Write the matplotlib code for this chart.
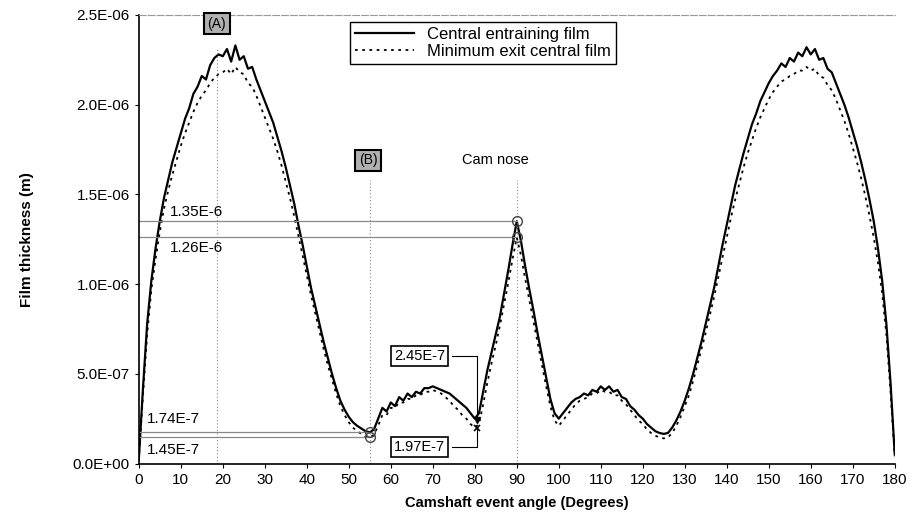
import matplotlib
matplotlib.use("Agg")
import matplotlib.pyplot as plt
from matplotlib.ticker import FuncFormatter, MultipleLocator

plt.rcParams['font.family'] = ['Liberation Sans', 'DejaVu Sans']

# camshaft angle (degrees) and film thickness (micrometres, scaled to m below)
angle = list(range(0, 181))
central_film = [
    0.02, 0.42, 0.78, 1.02, 1.20, 1.35, 1.48, 1.58, 1.68, 1.76,
    1.84, 1.92, 1.98, 2.06, 2.10, 2.16, 2.14, 2.22, 2.26, 2.28,
    2.27, 2.31, 2.24, 2.33, 2.25, 2.27, 2.20, 2.21, 2.14, 2.08,
    2.02, 1.96, 1.90, 1.82, 1.74, 1.65, 1.55, 1.45, 1.33, 1.22,
    1.10, 0.98, 0.88, 0.78, 0.68, 0.59, 0.50, 0.42, 0.35, 0.30,
    0.26, 0.23, 0.21, 0.195, 0.18, 0.174, 0.19, 0.25, 0.31, 0.29,
    0.34, 0.32, 0.37, 0.35, 0.39, 0.37, 0.40, 0.39, 0.42, 0.42,
    0.43, 0.42, 0.41, 0.40, 0.39, 0.37, 0.35, 0.33, 0.31, 0.28,
    0.25, 0.28, 0.40, 0.52, 0.62, 0.72, 0.82, 0.95, 1.08, 1.22,
    1.35, 1.24, 1.10, 0.97, 0.85, 0.72, 0.60, 0.48, 0.36, 0.28,
    0.25, 0.28, 0.31, 0.34, 0.36, 0.37, 0.39, 0.38, 0.41, 0.40,
    0.43, 0.41, 0.43, 0.40, 0.41, 0.37, 0.36, 0.32, 0.30, 0.27,
    0.25, 0.22, 0.20, 0.18, 0.17, 0.165, 0.17, 0.20, 0.24, 0.29,
    0.35, 0.42, 0.50, 0.59, 0.68, 0.78, 0.88, 0.98, 1.10, 1.22,
    1.33, 1.44, 1.55, 1.64, 1.73, 1.81, 1.89, 1.95, 2.02, 2.07,
    2.12, 2.16, 2.19, 2.23, 2.21, 2.26, 2.24, 2.29, 2.27, 2.32,
    2.28, 2.31, 2.25, 2.26, 2.20, 2.18, 2.12, 2.06, 2.00, 1.93,
    1.85, 1.77, 1.68, 1.58, 1.47, 1.35, 1.20, 1.02, 0.78, 0.45,
    0.05,
]
exit_film = [
    0.02, 0.38, 0.72, 0.97, 1.14, 1.29, 1.42, 1.52, 1.61, 1.69,
    1.77, 1.84, 1.90, 1.96, 2.01, 2.05, 2.08, 2.12, 2.15, 2.17,
    2.18, 2.20, 2.17, 2.21, 2.18, 2.17, 2.12, 2.10, 2.05, 1.99,
    1.93, 1.87, 1.81, 1.74, 1.66, 1.57, 1.48, 1.38, 1.27, 1.16,
    1.05, 0.94, 0.84, 0.74, 0.64, 0.55, 0.47, 0.39, 0.32, 0.27,
    0.23, 0.20, 0.18, 0.165, 0.15, 0.145, 0.16, 0.21, 0.27, 0.27,
    0.31, 0.31, 0.34, 0.34, 0.36, 0.36, 0.38, 0.38, 0.40, 0.40,
    0.41, 0.40, 0.39, 0.37, 0.35, 0.32, 0.30, 0.27, 0.25, 0.22,
    0.20, 0.22, 0.33, 0.45, 0.56, 0.66, 0.77, 0.89, 1.01, 1.14,
    1.26, 1.16, 1.03, 0.91, 0.79, 0.67, 0.55, 0.43, 0.32, 0.24,
    0.21, 0.24, 0.27, 0.30, 0.33, 0.35, 0.36, 0.37, 0.39, 0.39,
    0.41, 0.40, 0.40, 0.38, 0.38, 0.35, 0.33, 0.30, 0.27, 0.24,
    0.22, 0.19, 0.17, 0.155, 0.145, 0.14, 0.145, 0.17, 0.21, 0.26,
    0.32, 0.38, 0.46, 0.55, 0.64, 0.73, 0.83, 0.93, 1.04, 1.15,
    1.26, 1.37, 1.47, 1.56, 1.65, 1.73, 1.80, 1.87, 1.93, 1.98,
    2.03, 2.07, 2.10, 2.13, 2.14, 2.16, 2.17, 2.19, 2.19, 2.21,
    2.19, 2.20, 2.16, 2.15, 2.11, 2.08, 2.03, 1.97, 1.91, 1.84,
    1.76, 1.68, 1.59, 1.49, 1.38, 1.26, 1.12, 0.95, 0.72, 0.40,
    0.04,
]

# marked values
nose_angle = 90
nose_vals = [1.35e-6, 1.26e-6]
min_angle = 55
min_vals = [1.74e-7, 1.45e-7]
exit_angle = 80.5
exit_vals = [2.45e-7, 1.97e-7]

fig = plt.figure(figsize=(9.13, 5.15), dpi=100)
ax = fig.add_axes([0.152, 0.1, 0.828, 0.871])

sol = [v * 1e-6 for v in central_film]
dot = [v * 1e-6 for v in exit_film]
ax.plot(angle, sol, color='black', lw=1.6, label='Central entraining film')
ax.plot(angle, dot, color='black', lw=1.3, ls=(0, (1.5, 2.5)), label='Minimum exit central film')

grey = '#888888'
# reference lines
ax.plot([0, nose_angle], [nose_vals[0]] * 2, color=grey, lw=0.9)
ax.plot([0, nose_angle], [nose_vals[1]] * 2, color=grey, lw=0.9)
ax.plot([0, min_angle], [min_vals[0]] * 2, color=grey, lw=0.9)
ax.plot([0, min_angle], [min_vals[1]] * 2, color=grey, lw=0.9)
ax.plot([18.7, 18.7], [0, 2.31e-6], color=grey, lw=0.8, ls=(0, (1, 2)))
ax.plot([min_angle, min_angle], [0, 1.58e-6], color=grey, lw=0.8, ls=(0, (1, 2)))
ax.plot([nose_angle, nose_angle], [0, 1.58e-6], color=grey, lw=0.8, ls=(0, (1, 2)))

ax.plot([nose_angle] * 2, nose_vals, 'o', mfc='none', mec='#444444', ms=7, mew=1)
ax.plot([min_angle] * 2, min_vals, 'o', mfc='none', mec='#444444', ms=7, mew=1)

# boxed labels at the exit point
ax.plot([74.6, exit_angle, exit_angle], [0.6e-6, 0.6e-6, exit_vals[0]], color='black', lw=0.8)
ax.plot([74.6, exit_angle, exit_angle], [0.09e-6, 0.09e-6, exit_vals[1]], color='black', lw=0.8)
ax.plot(exit_angle, exit_vals[0], 'v', color='black', ms=5)
ax.plot(exit_angle, exit_vals[1], 'x', color='black', ms=5, mew=1.2)

box = dict(boxstyle='square,pad=0.2', fc='white', ec='black', lw=1.2)
ax.text(66.8, 0.6e-6, '2.45E-7', fontsize=10.5, ha='center', va='center', bbox=box)
ax.text(66.8, 0.09e-6, '1.97E-7', fontsize=10.5, ha='center', va='center', bbox=box)

ax.text(7.3, 1.40e-6, '1.35E-6', fontsize=11, va='center')
ax.text(7.3, 1.20e-6, '1.26E-6', fontsize=11, va='center')
ax.text(2, 0.25e-6, '1.74E-7', fontsize=11, va='center')
ax.text(2, 0.075e-6, '1.45E-7', fontsize=11, va='center')
ax.text(85, 1.69e-6, 'Cam nose', fontsize=10.5, ha='center', va='center')

tag = dict(boxstyle='square,pad=0.25', fc='#b0b0b0', ec='black', lw=1.5)
ax.text(18.6, 2.45e-6, '(A)', fontsize=10, ha='center', va='center', bbox=tag)
ax.text(54.6, 1.69e-6, '(B)', fontsize=10, ha='center', va='center', bbox=tag)

ax.set_xlim(0, 180)
ax.set_ylim(0, 2.5e-6)
ax.xaxis.set_major_locator(MultipleLocator(10))
ax.yaxis.set_major_locator(MultipleLocator(0.5e-6))
ax.yaxis.set_major_formatter(FuncFormatter(lambda v, p: f"{v:.1E}"))
ax.tick_params(labelsize=11, length=3, direction='out')
ax.spines['right'].set_visible(False)
ax.spines['top'].set_color('#999999')
ax.spines['top'].set_linestyle((0, (6, 2)))
ax.spines['left'].set_linewidth(1.2)
ax.spines['bottom'].set_linewidth(1.2)

ax.set_xlabel('Camshaft event angle (Degrees)', fontsize=10.5, fontweight='bold', labelpad=7)
ax.set_ylabel('Film thickness (m)', fontsize=11, fontweight='bold', labelpad=28)

leg = ax.legend(loc='upper left', bbox_to_anchor=(0.28, 0.985), fontsize=12,
                fancybox=False, edgecolor='black', framealpha=1, handlelength=3.5,
                labelspacing=0.15, borderpad=0.3, borderaxespad=0)
leg.get_frame().set_linewidth(1)

fig.savefig('out.png', dpi=100)
